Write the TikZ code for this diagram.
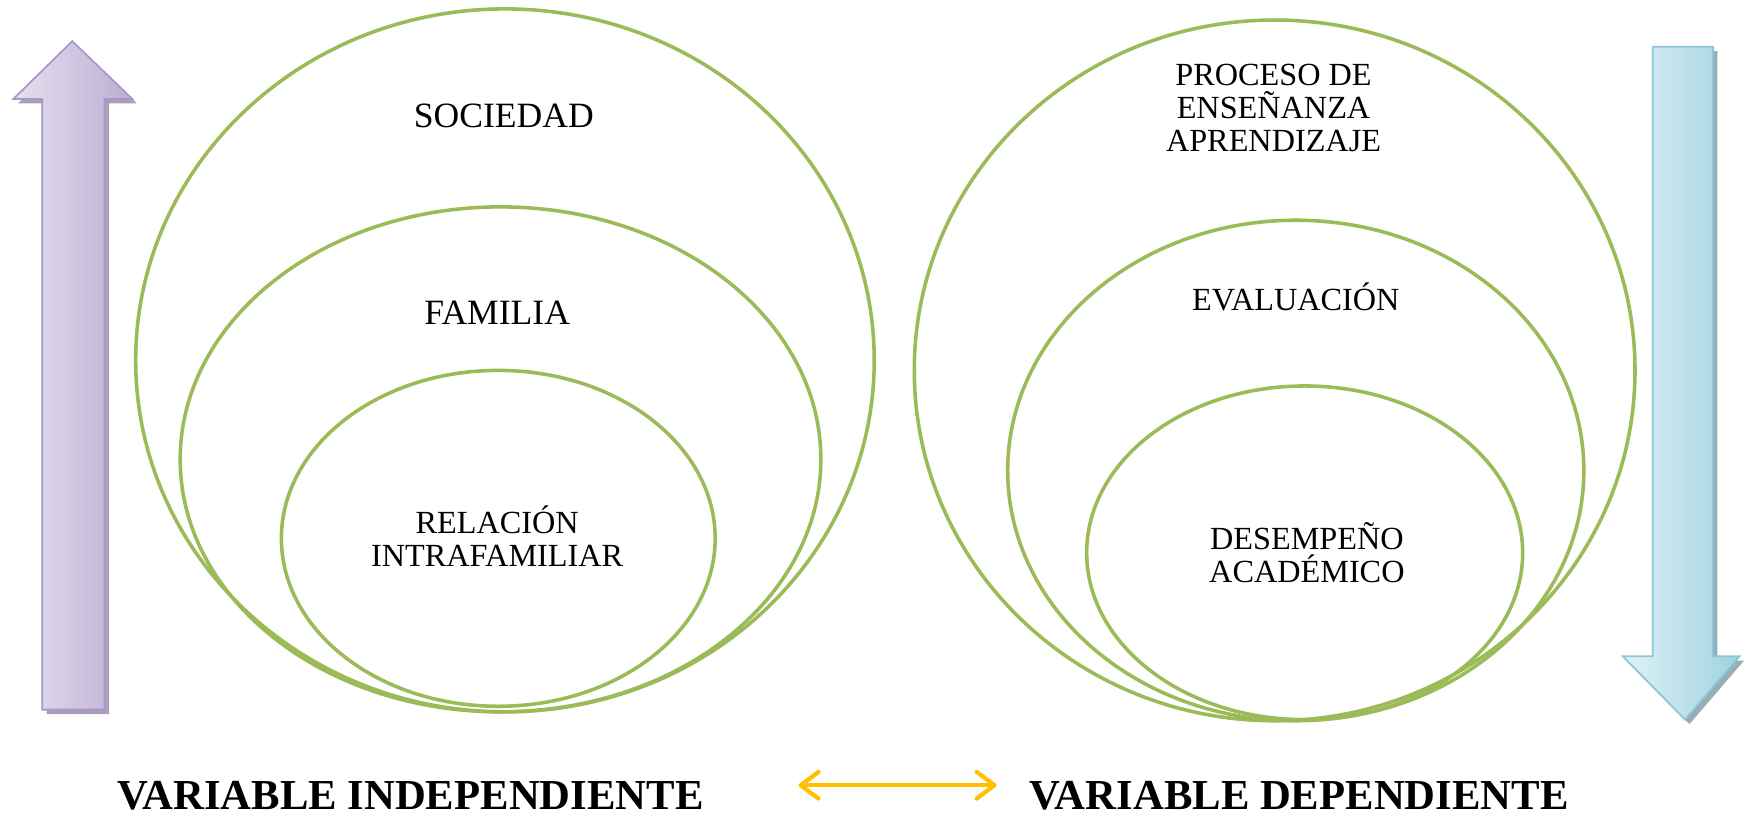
\documentclass[tikz,border=0pt]{standalone}
\usepackage{fontspec}
\setmainfont{Liberation Serif}
\usetikzlibrary{arrows.meta}
\definecolor{ringgreen}{HTML}{9BBB59}
\definecolor{lavL}{HTML}{E6E0EF}
\definecolor{lavR}{HTML}{BCADD4}
\definecolor{lavB}{HTML}{A898C8}
\definecolor{lavS}{HTML}{A8A0B8}
\definecolor{bluL}{HTML}{E0F1F6}
\definecolor{bluR}{HTML}{9ED2E0}
\definecolor{bluB}{HTML}{8CC6D6}
\definecolor{bluS}{HTML}{98AEB6}
\definecolor{gold}{HTML}{FFC000}
\tikzset{
  ring/.style={draw=ringgreen, line width=1.6pt},
  lbl/.style={font=\fontsize{14.5}{15}\selectfont, align=center, inner sep=0pt},
  biglbl/.style={font=\fontsize{16}{17}\selectfont, align=center, inner sep=0pt},
  varlbl/.style={font=\fontsize{19.2}{22}\selectfont\bfseries, inner sep=0pt},
}
\begin{document}
\begin{tikzpicture}[x=0.5pt,y=-0.5pt]
\useasboundingbox (0,0) rectangle (1568,735);
% left rings
\draw[ring] (454,324) ellipse [x radius=166pt, y radius=158pt];
\draw[ring] (450,413) ellipse [x radius=144pt, y radius=113.5pt];
\draw[ring] (448,484) ellipse [x radius=97.5pt, y radius=75.5pt];
% right rings
\draw[ring] (1146,333) ellipse [x radius=162pt, y radius=157.5pt];
\draw[ring] (1165,423) ellipse [x radius=129.5pt, y radius=112.5pt];
\draw[ring] (1173,497) ellipse [x radius=98pt, y radius=75pt];
% texts
\node[biglbl] (soc) at (453,104) {SOCIEDAD};
\node[biglbl] (fam) at (447,281) {FAMILIA};
\node[lbl] (rel) at (447,482) {RELACIÓN\\INTRAFAMILIAR};
\node[lbl] (pro) at (1145,97) {PROCESO DE\\ENSEÑANZA\\APRENDIZAJE};
\node[lbl] (eva) at (1165,267) {EVALUACIÓN};
\node[lbl] (des) at (1175,497) {DESEMPEÑO\\ACADÉMICO};
% left purple arrow
\fill[lavS] (69,41) -- (123,93) -- (98,93) -- (98,642) -- (42,642) -- (42,93) -- (16,93) -- cycle;
\shade[left color=lavL, right color=lavR, draw=lavB, line width=0.8pt]
  (65,37) -- (119,89) -- (94,89) -- (94,638) -- (38,638) -- (38,89) -- (12,89) -- cycle;
% right blue arrow
\fill[bluS] (1490,46) -- (1544,46) -- (1544,594) -- (1568,594) -- (1519,651) -- (1463,594) -- (1490,594) -- cycle;
\shade[left color=bluL, right color=bluR, draw=bluB, line width=0.8pt]
  (1486,42) -- (1540,42) -- (1540,590) -- (1564,590) -- (1515,647) -- (1459,590) -- (1486,590) -- cycle;
% bottom labels
\node[varlbl] (vi) at (369,715) {VARIABLE INDEPENDIENTE};
\node[varlbl] (vd) at (1168,715) {VARIABLE DEPENDIENTE};
\coordinate (al) at (718,706);
\coordinate (ar) at (896,706);
\draw[gold, line width=1.9pt, line cap=round,
  {Straight Barb[length=8pt, width=12pt, line cap=round, line join=round]}-{Straight Barb[length=8pt, width=12pt, line cap=round, line join=round]}]
  (al) -- (ar);
\end{tikzpicture}
\end{document}
